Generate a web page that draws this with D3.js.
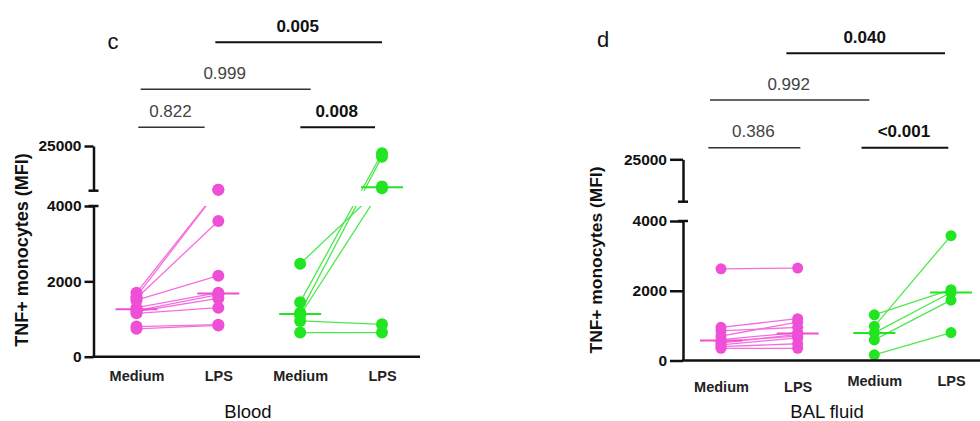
<!DOCTYPE html>
<html>
<head>
<meta charset="utf-8">
<script src="https://cdn.jsdelivr.net/npm/d3@7"></script>
<style>
  body { margin: 0; background: #fff; }
  svg { font-family: "Liberation Sans", Arial, sans-serif; }
</style>
</head>
<body>
<svg id="chart" width="980" height="421"></svg>
<script>
// categories on the x axis
const groups = ["aMed", "aLps", "bMed", "bLps"]
const tickLabels = ["Medium", "LPS", "Medium", "LPS"]
const lowerTicks = [0, 2000, 4000]
const upperTicks = [25000]
const breakAt = 4000
const topValue = 25000

// blood, pink group (paired medium -> LPS)
const bloodPinkMedium = [1700, 1600, 1550, 1500, 1300, 1220, 1200, 1150, 800, 740]
const bloodPinkLps    = [4500, 4400, 3600, 2150, 1700, 1650, 1550, 1300, 850, 830]
// blood, green group
const bloodGreenMedium = [1447, 1170, 2465, 1100, 950, 640]
const bloodGreenLps    = [21600, 20000, 6000, 5200, 860, 640]

// BAL fluid, pink group
const balPinkMedium = [2630, 950, 850, 700, 600, 550, 500, 450, 400, 350]
const balPinkLps    = [2650, 1200, 950, 1100, 800, 700, 750, 650, 480, 350]
// BAL fluid, green group
const balGreenMedium = [1310, 980, 790, 590, 164]
const balGreenLps    = [2030, 3580, 1950, 1730, 800]

// p values between groups
const bloodPvals = [
  { from: "aMed", to: "aLps", p: "0.822", bold: false },
  { from: "bMed", to: "bLps", p: "0.008", bold: true },
  { from: "aMed", to: "bMed", p: "0.999", bold: false },
  { from: "aLps", to: "bLps", p: "0.005", bold: true }
]
const balPvals = [
  { from: "aMed", to: "aLps", p: "0.386", bold: false },
  { from: "bMed", to: "bLps", p: "<0.001", bold: true },
  { from: "aMed", to: "bMed", p: "0.992", bold: false },
  { from: "aLps", to: "bLps", p: "0.040", bold: true }
]

const pink = "#ef4fd6"
const pinkLine = "#f36fdf"
const green = "#22e522"
const greenLine = "#4ee84e"

const svg = d3.select("#chart")

function drawPanel(cfg) {
  const g = svg.append("g")

  const x = d3.scalePoint().domain(groups).range(cfg.xRange)
  const lower = d3.scaleLinear().domain([0, breakAt]).range(cfg.lowerRange)
  const upper = d3.scaleLinear().domain([breakAt, topValue]).range(cfg.upperRange)
  const y = v => v <= breakAt ? lower(v) : upper(v)

  // clip for the connecting lines so they vanish in the axis gap
  const clipId = "clip-" + cfg.id
  const cp = svg.append("defs").append("clipPath").attr("id", clipId)
  cp.append("rect")
    .attr("x", cfg.yAxisX).attr("y", 0)
    .attr("width", 980).attr("height", cfg.upperRange[0])
  cp.append("rect")
    .attr("x", cfg.yAxisX).attr("y", cfg.lowerRange[1])
    .attr("width", 980).attr("height", cfg.lowerRange[0] - cfg.lowerRange[1] + 10)

  const lines = g.append("g").attr("clip-path", `url(#${clipId})`)

  cfg.series.forEach(s => {
    const pairs = s.medium.map((m, i) => [m, s.lps[i]])
    lines.selectAll(null)
      .data(pairs)
      .enter().append("line")
      .attr("x1", x(s.keys[0]))
      .attr("x2", x(s.keys[1]))
      .attr("y1", d => y(d[0]))
      .attr("y2", d => y(d[1]))
      .attr("stroke", s.lineColor)
      .attr("stroke-width", 1.3)

    // medians
    ;[[s.keys[0], s.medium], [s.keys[1], s.lps]].forEach(([k, vals]) => {
      const med = d3.median(vals)
      g.append("line")
        .attr("x1", x(k) - 21).attr("x2", x(k) + 21)
        .attr("y1", y(med)).attr("y2", y(med))
        .attr("stroke", s.color)
        .attr("stroke-width", 2)
    })

    const pts = s.medium.map(v => [s.keys[0], v]).concat(s.lps.map(v => [s.keys[1], v]))
    g.selectAll(null)
      .data(pts)
      .enter().append("circle")
      .attr("cx", d => x(d[0]))
      .attr("cy", d => y(d[1]))
      .attr("r", cfg.r)
      .attr("fill", s.color)
  })

  // y axis, two segments
  const fmt = d3.format("d")
  const lowerAxis = g.append("g")
    .attr("transform", `translate(${cfg.yAxisX},0)`)
    .call(d3.axisLeft(lower).tickValues(lowerTicks).tickFormat(fmt)
      .tickSize(cfg.tickLen).tickSizeOuter(0).tickPadding(3))
  const upperAxis = g.append("g")
    .attr("transform", `translate(${cfg.yAxisX},0)`)
    .call(d3.axisLeft(upper).tickValues(upperTicks).tickFormat(fmt)
      .tickSize(cfg.tickLen).tickSizeOuter(0).tickPadding(3))

  ;[lowerAxis, upperAxis].forEach(ax => {
    ax.selectAll("path, line").attr("stroke", "#111").attr("stroke-width", 2.5)
    ax.selectAll("text")
      .style("font-size", "15.5px")
      .style("font-weight", "bold")
      .attr("fill", "#111")
  })

  // caps at the axis break
  ;[upper(breakAt), lower(breakAt)].forEach(yy => {
    g.append("line")
      .attr("x1", cfg.yAxisX - 5).attr("x2", cfg.yAxisX + 5)
      .attr("y1", yy).attr("y2", yy)
      .attr("stroke", "#111").attr("stroke-width", 2.5)
  })

  // x axis
  g.append("line")
    .attr("x1", cfg.yAxisX - 1).attr("x2", cfg.xAxisEnd)
    .attr("y1", lower(0)).attr("y2", lower(0))
    .attr("stroke", "#111").attr("stroke-width", 2.5)

  const xAxis = g.append("g")
    .attr("transform", `translate(0,${lower(0)})`)
    .call(d3.axisBottom(x).tickSize(0).tickFormat((d, i) => tickLabels[i]))
  xAxis.select(".domain").remove()
  xAxis.selectAll("text")
    .attr("y", (d, i) => cfg.labelDy[i])
    .attr("dy", "0.35em")
    .style("font-size", "14.5px")
    .style("font-weight", "bold")
    .attr("fill", "#222")

  // axis titles
  g.append("text")
    .attr("x", cfg.titleX).attr("y", cfg.titleY)
    .attr("text-anchor", "middle")
    .attr("dy", "0.35em")
    .style("font-size", "18.5px")
    .attr("fill", "#111")
    .text(cfg.title)

  g.append("text")
    .attr("transform", `translate(${cfg.yTitleX},${cfg.yTitleY}) rotate(-90)`)
    .attr("text-anchor", "middle")
    .attr("dy", "0.35em")
    .style("font-size", cfg.yTitleSize + "px")
    .style("font-weight", "bold")
    .attr("fill", "#111")
    .text("TNF+ monocytes (MFI)")

  // panel letter
  g.append("text")
    .attr("x", cfg.letterX).attr("y", cfg.letterY)
    .attr("text-anchor", "middle")
    .attr("dy", "0.35em")
    .style("font-size", "22px")
    .attr("fill", "#111")
    .text(cfg.letter)

  // p value brackets
  cfg.pvals.forEach((b, i) => {
    const lay = cfg.bracketLayout[i]
    const x1 = x(b.from) + lay.dx1
    const x2 = x(b.to) + lay.dx2
    g.append("line")
      .attr("x1", x1).attr("x2", x2)
      .attr("y1", lay.y).attr("y2", lay.y)
      .attr("stroke", b.bold ? "#111" : "#333")
      .attr("stroke-width", b.bold ? 2 : 1.4)
    g.append("text")
      .attr("x", (x1 + x2) / 2 - 1)
      .attr("y", lay.y - 10.5)
      .attr("text-anchor", "middle")
      .style("font-size", "17px")
      .style("font-weight", b.bold ? "bold" : "normal")
      .attr("fill", b.bold ? "#111" : "#444")
      .text(b.p)
  })
}

drawPanel({
  id: "blood",
  yAxisX: 93.5,
  xRange: [136.5, 382],
  xAxisEnd: 420,
  lowerRange: [356.7, 206],
  upperRange: [190.7, 146],
  tickLen: 9,
  r: 6,
  labelDy: [19.5, 19.5, 19.5, 19.5],
  title: "Blood", titleX: 248, titleY: 411.5,
  yTitleX: 21.5, yTitleY: 250, yTitleSize: 18,
  letter: "c", letterX: 113, letterY: 41,
  pvals: bloodPvals,
  bracketLayout: [
    { y: 127.3, dx1: 1.8, dx2: -13.7 },
    { y: 127.3, dx1: 0.2, dx2: -7 },
    { y: 89.3, dx1: 4.2, dx2: 10.5 },
    { y: 42.3, dx1: -3, dx2: 0 }
  ],
  series: [
    { keys: ["aMed", "aLps"], medium: bloodPinkMedium, lps: bloodPinkLps, color: pink, lineColor: pinkLine },
    { keys: ["bMed", "bLps"], medium: bloodGreenMedium, lps: bloodGreenLps, color: green, lineColor: greenLine }
  ]
})

drawPanel({
  id: "bal",
  yAxisX: 683,
  xRange: [721, 951],
  xAxisEnd: 980,
  lowerRange: [360.5, 221],
  upperRange: [201.7, 159.3],
  tickLen: 13,
  r: 5.5,
  labelDy: [26, 26, 20, 20],
  title: "BAL fluid", titleX: 827, titleY: 411.5,
  yTitleX: 595.5, yTitleY: 260, yTitleSize: 17.4,
  letter: "d", letterX: 603, letterY: 39,
  pvals: balPvals,
  bracketLayout: [
    { y: 147.7, dx1: -12.7, dx2: 2.7 },
    { y: 147.7, dx1: -12.8, dx2: -2.7 },
    { y: 100, dx1: -11, dx2: -5 },
    { y: 53.3, dx1: -11.3, dx2: -6 }
  ],
  series: [
    { keys: ["aMed", "aLps"], medium: balPinkMedium, lps: balPinkLps, color: pink, lineColor: pinkLine },
    { keys: ["bMed", "bLps"], medium: balGreenMedium, lps: balGreenLps, color: green, lineColor: greenLine }
  ]
})
</script>
</body>
</html>
